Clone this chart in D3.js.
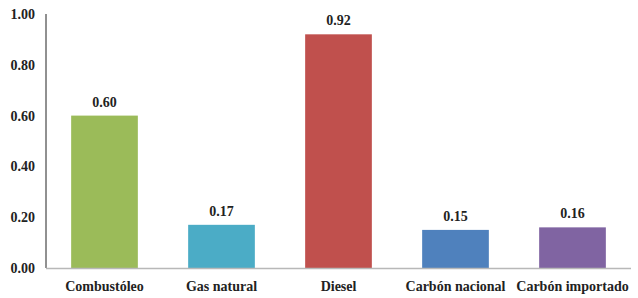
<!DOCTYPE html>
<html>
<head>
<meta charset="utf-8">
<script src="https://cdn.jsdelivr.net/npm/d3@7"></script>
<style>
  body { margin: 0; background: #fff; }
</style>
</head>
<body>
<script>
var categories = ["Combustóleo", "Gas natural", "Diesel", "Carbón nacional", "Carbón importado"];
var values = [0.60, 0.17, 0.92, 0.15, 0.16];
var colors = ["#9bbb59", "#4bacc6", "#c0504d", "#4f81bd", "#8064a2"];
var yTicks = [0, 0.2, 0.4, 0.6, 0.8, 1.0];

var font = "'Liberation Serif', 'DejaVu Serif', serif";

var margin = {top: 14, right: 7, bottom: 30, left: 46},
    width = 638 - margin.left - margin.right,
    height = 298 - margin.top - margin.bottom;

var x = d3.scaleBand()
    .domain(categories)
    .range([0, width])
    .paddingInner(0.43)
    .paddingOuter(0.215);

var y = d3.scaleLinear()
    .domain([0, 1])
    .range([height, 0]);

var svg = d3.select('body')
    .append('svg')
    .attr('width', 638)
    .attr('height', 298);

var main = svg.append('g')
    .attr('transform', 'translate(' + margin.left + ',' + margin.top + ')');

function styleText(sel) {
    sel.style('font-family', font)
        .style('font-weight', 'bold')
        .style('font-size', '14px')
        .style('fill', '#222');
}

// y axis: labels only plus a plain vertical line
var yAxis = main.append('g')
    .call(d3.axisLeft(y).tickValues(yTicks).tickFormat(d3.format('.2f')).tickSize(0).tickPadding(11));
yAxis.select('.domain').remove();
yAxis.selectAll('text').call(styleText);

main.append('line')
    .attr('x1', 0).attr('x2', 0)
    .attr('y1', 0).attr('y2', height)
    .attr('stroke', '#222')
    .attr('stroke-width', 1);

// bars
main.selectAll('.bar')
    .data(values)
    .enter().append('rect')
    .attr('class', 'bar')
    .attr('x', function (d, i) { return x(categories[i]); })
    .attr('y', function (d) { return y(d); })
    .attr('width', x.bandwidth())
    .attr('height', function (d) { return height - y(d); })
    .attr('fill', function (d, i) { return colors[i]; });

// baseline
main.append('line')
    .attr('x1', 0).attr('x2', width)
    .attr('y1', height + 0.5).attr('y2', height + 0.5)
    .attr('stroke', '#b8b8b8')
    .attr('stroke-width', 1.5);

// value labels
main.selectAll('.val')
    .data(values)
    .enter().append('text')
    .attr('class', 'val')
    .attr('x', function (d, i) { return x(categories[i]) + x.bandwidth() / 2; })
    .attr('y', function (d) { return y(d) - 9; })
    .attr('text-anchor', 'middle')
    .call(styleText)
    .text(function (d) { return d3.format('.2f')(d); });

// category labels
var xAxis = main.append('g')
    .attr('transform', 'translate(0,' + height + ')')
    .call(d3.axisBottom(x).tickSize(0).tickPadding(13));
xAxis.select('.domain').remove();
xAxis.selectAll('text').call(styleText);
</script>
</body>
</html>
